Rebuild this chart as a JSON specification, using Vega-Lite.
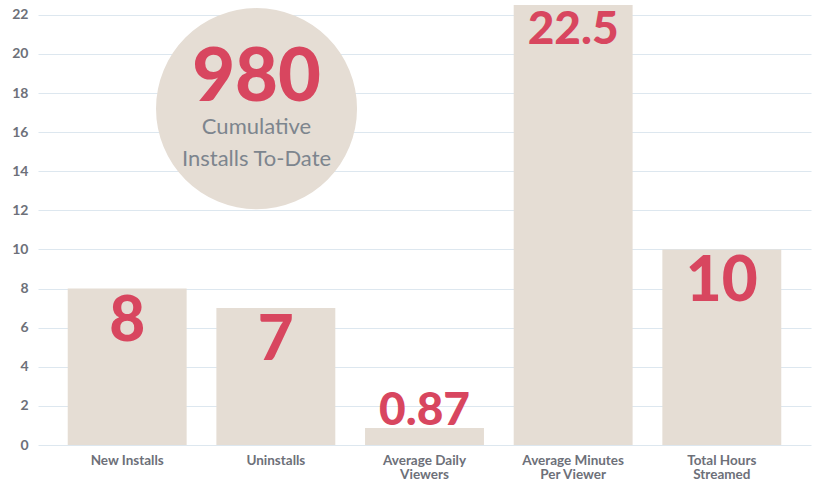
{
  "$schema": "https://vega.github.io/schema/vega-lite/v6.json",
  "width": 773,
  "height": 440,
  "autosize": {"type": "none"},
  "padding": {"left": 38, "top": 5, "right": 3, "bottom": 35},
  "background": "white",
  "config": {
    "view": {"stroke": null},
    "font": "Lato",
    "axisY": {
      "title": null, "ticks": false, "domain": false, "grid": true, "gridColor": "#dde7ef", "gridWidth": 1,
      "labelFontSize": 14, "labelFontWeight": "bold", "labelColor": "#6d7079", "labelPadding": 10, "labelOverlap": false
    }
  },
  "datasets": {
    "bars": [
      {"category": "New Installs", "value": 8},
      {"category": "Uninstalls", "value": 7},
      {"category": "Average Daily Viewers", "value": 0.87},
      {"category": "Average Minutes Per Viewer", "value": 22.5},
      {"category": "Total Hours Streamed", "value": 10}
    ],
    "badge": [
      {"pos": 1.47, "y": 17.2, "headline": "980", "line1": "Cumulative", "line2": "Installs To-Date", "y1": 18.7, "y2": 16.25, "y3": 14.6}
    ]
  },
  "layer": [
    {
      "data": {"name": "bars"},
      "layer": [
        {
          "mark": {"type": "bar", "color": "#e5ddd4", "clip": false},
          "encoding": {
            "x": {
              "field": "category", "type": "nominal", "sort": null,
              "scale": {"paddingInner": 0.2, "paddingOuter": 0.2},
              "axis": {
                "title": null, "labelAngle": 0, "ticks": false, "domain": false,
                "labelFontSize": 13.5, "labelFontWeight": "bold", "labelColor": "#6d7079",
                "labelPadding": 8, "labelLineHeight": 14, "labelOverlap": false,
                "labelExpr": "datum.value == 'Average Daily Viewers' ? ['Average Daily', 'Viewers'] : datum.value == 'Average Minutes Per Viewer' ? ['Average Minutes', 'Per Viewer'] : datum.value == 'Total Hours Streamed' ? ['Total Hours', 'Streamed'] : datum.value"
              }
            },
            "y": {
              "field": "value", "type": "quantitative",
              "scale": {"domain": [0, 22.5], "nice": false},
              "axis": {"values": [0, 2, 4, 6, 8, 10, 12, 14, 16, 18, 20, 22]}
            }
          }
        },
        {
          "transform": [{"filter": "datum.value >= 2"}],
          "mark": {"type": "text", "baseline": "top", "dy": 3, "color": "#d8465f", "fontWeight": 900, "font": "Lato"},
          "encoding": {
            "x": {"field": "category", "type": "nominal", "sort": null},
            "y": {"field": "value", "type": "quantitative", "axis": {"values": [0, 2, 4, 6, 8, 10, 12, 14, 16, 18, 20, 22]}},
            "text": {"field": "value", "type": "quantitative"},
            "size": {"condition": {"test": "length(toString(datum.value)) > 2", "value": 46}, "value": 62}
          }
        },
        {
          "transform": [{"filter": "datum.value < 2"}],
          "mark": {"type": "text", "baseline": "alphabetic", "dy": -3, "color": "#d8465f", "fontWeight": 900, "font": "Lato", "fontSize": 46},
          "encoding": {
            "x": {"field": "category", "type": "nominal", "sort": null},
            "y": {"field": "value", "type": "quantitative", "axis": {"values": [0, 2, 4, 6, 8, 10, 12, 14, 16, 18, 20, 22]}},
            "text": {"field": "value", "type": "quantitative"}
          }
        }
      ]
    },
    {
      "data": {"name": "badge"},
      "encoding": {
        "x": {"field": "pos", "type": "quantitative", "scale": {"domain": [0, 5.2], "nice": false}, "axis": null}
      },
      "layer": [
        {
          "mark": {"type": "point", "shape": "circle", "filled": true, "color": "#e5ddd4", "opacity": 1, "size": 40400},
          "encoding": {"y": {"field": "y", "type": "quantitative", "axis": {"values": [0, 2, 4, 6, 8, 10, 12, 14, 16, 18, 20, 22]}}}
        },
        {
          "mark": {"type": "text", "color": "#d8465f", "fontWeight": 900, "font": "Lato", "fontSize": 74, "baseline": "middle"},
          "encoding": {"y": {"field": "y1", "type": "quantitative", "axis": {"values": [0, 2, 4, 6, 8, 10, 12, 14, 16, 18, 20, 22]}}, "text": {"field": "headline"}}
        },
        {
          "mark": {"type": "text", "color": "#7d858e", "font": "Lato", "fontSize": 22, "baseline": "middle"},
          "encoding": {"y": {"field": "y2", "type": "quantitative", "axis": {"values": [0, 2, 4, 6, 8, 10, 12, 14, 16, 18, 20, 22]}}, "text": {"field": "line1"}}
        },
        {
          "mark": {"type": "text", "color": "#7d858e", "font": "Lato", "fontSize": 22, "baseline": "middle"},
          "encoding": {"y": {"field": "y3", "type": "quantitative", "axis": {"values": [0, 2, 4, 6, 8, 10, 12, 14, 16, 18, 20, 22]}}, "text": {"field": "line2"}}
        }
      ]
    }
  ],
  "resolve": {"scale": {"x": "independent"}}
}
